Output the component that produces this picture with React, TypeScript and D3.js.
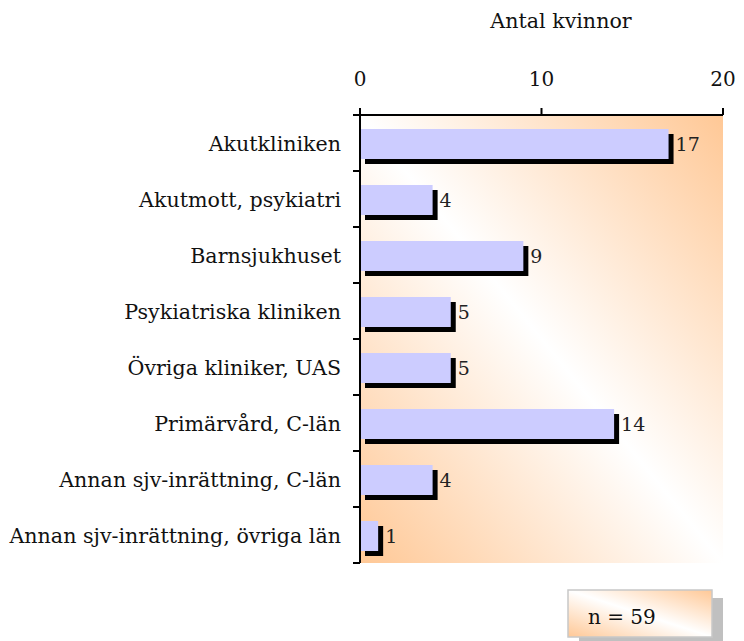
import React from "react";
import * as d3 from "d3";

const categories = [
  "Akutkliniken",
  "Akutmott, psykiatri",
  "Barnsjukhuset",
  "Psykiatriska kliniken",
  "Övriga kliniker, UAS",
  "Primärvård, C-län",
  "Annan sjv-inrättning, C-län",
  "Annan sjv-inrättning, övriga län",
];
const values = [17, 4, 9, 5, 5, 14, 4, 1];
const xTicks = [0, 10, 20];
const axisTitle = "Antal kvinnor";
const noteText = "n = 59";

const W = 744;
const H = 641;
const left = 360;
const right = 723;
const top = 115;
const bottom = 563;
const FONT = "'DejaVu Serif', serif";

export default function App() {
  const x = d3.scaleLinear().domain([0, 20]).range([left, right]);
  const y = d3.scaleBand().domain(categories).range([top, bottom]);
  const bw = y.bandwidth();
  const barH = 30;
  const off = 5;
  const pad = 14;
  const tf = { fontFamily: FONT } as React.CSSProperties;

  return (
    <svg width={W} height={H} style={{ position: "absolute", left: 0, top: 0 }}>
      <defs>
        <linearGradient id="bg" x1="1" y1="0" x2="0" y2="1">
          <stop offset="0" stopColor="#FFC896" />
          <stop offset="0.5" stopColor="#FFFFFF" />
          <stop offset="1" stopColor="#FFC896" />
        </linearGradient>
        <linearGradient id="nbg" x1="1" y1="0" x2="0" y2="1">
          <stop offset="0" stopColor="#FFC896" />
          <stop offset="0.5" stopColor="#FFFFFF" />
          <stop offset="1" stopColor="#FFC896" />
        </linearGradient>
      </defs>
      <rect x={0} y={0} width={W} height={H} fill="#fff" />
      <rect x={left} y={top} width={right - left} height={bottom - top} fill="url(#bg)" />

      {categories.map((c, i) => {
        const y0 = (y(c) as number) + pad;
        const v = values[i];
        return (
          <g key={c}>
            <rect x={x(0) + off} y={y0 + off} width={x(v) - x(0)} height={barH} fill="#000" />
            <rect x={x(0)} y={y0} width={x(v) - x(0)} height={barH} fill="#CCCCFF" />
            <text x={x(v) + off + 2} y={y0 + barH / 2 + 7} style={tf} fontSize={19} fill="#222">
              {v}
            </text>
            <text x={341} y={(y(c) as number) + bw / 2 + 8} textAnchor="end" style={tf} fontSize={20.6} fill="#111">
              {c}
            </text>
          </g>
        );
      })}

      <line x1={left} y1={top} x2={right} y2={top} stroke="#000" strokeWidth={2} />
      <line x1={left} y1={top - 1} x2={left} y2={bottom} stroke="#000" strokeWidth={2} />
      {xTicks.map((t) => (
        <g key={t}>
          <line x1={x(t)} y1={top} x2={x(t)} y2={top - 7} stroke="#000" strokeWidth={2} />
          <text x={x(t)} y={top - 29} textAnchor="middle" style={tf} fontSize={20} fill="#111">
            {t}
          </text>
        </g>
      ))}
      {d3.range(categories.length + 1).map((i) => {
        const yy = top + i * bw;
        return <line key={i} x1={left - 7} y1={yy} x2={left} y2={yy} stroke="#000" strokeWidth={2} />;
      })}
      <text x={561} y={28} textAnchor="middle" style={tf} fontSize={20.6} fill="#111">
        {axisTitle}
      </text>

      <rect x={579} y={598} width={144} height={47} fill="#C0C0C0" />
      <rect x={568} y={590} width={144} height={47} fill="url(#nbg)" stroke="#C8C8C8" strokeWidth={1.5} />
      <text x={588} y={624} style={tf} fontSize={20} fill="#111">
        {noteText}
      </text>
    </svg>
  );
}
